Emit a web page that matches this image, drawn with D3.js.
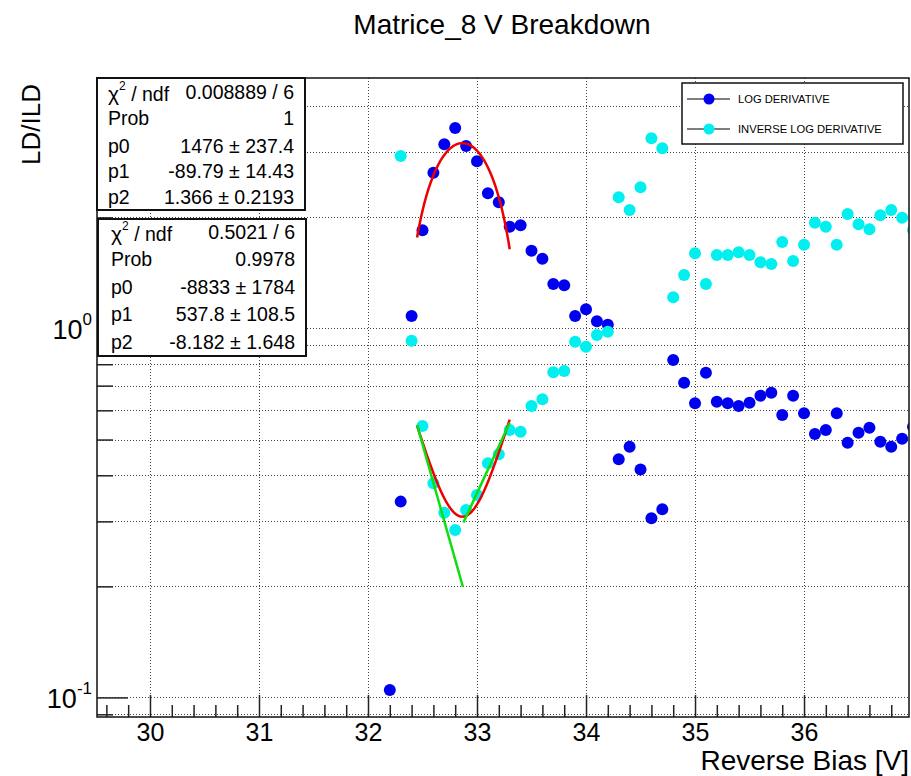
<!DOCTYPE html>
<html>
<head>
<meta charset="utf-8">
<script src="https://cdn.jsdelivr.net/npm/d3@7/dist/d3.min.js"></script>
<style>
  html, body { margin: 0; padding: 0; background: #fff; }
  svg { display: block; font-family: "Liberation Sans", Arial, sans-serif; }
</style>
</head>
<body>
<svg id="chart" width="911" height="776"></svg>
<script>
// ---------------- data ----------------
const chartTitle = "Matrice_8 V Breakdown";
const xTitle = "Reverse Bias [V]";
const yTitle = "LD/ILD";

// reverse bias values (V)
const biasLD = [32.2,32.3,32.4,32.5,32.6,32.7,32.8,32.9,33.0,33.1,33.2,33.3,33.4,33.5,33.6,33.7,33.8,33.9,34.0,34.1,34.2,34.3,34.4,34.5,34.6,34.7,34.8,34.9,35.0,35.1,35.2,35.3,35.4,35.5,35.6,35.7,35.8,35.9,36.0,36.1,36.2,36.3,36.4,36.5,36.6,36.7,36.8,36.9,37.0];
const logDerivative = [0.1048,0.3394,1.081,1.845,2.644,3.157,3.494,3.123,2.839,2.325,2.198,1.888,1.905,1.625,1.546,1.320,1.309,1.081,1.127,1.046,1.024,0.4419,0.4782,0.4148,0.3060,0.3236,0.8214,0.7128,0.6270,0.7590,0.6332,0.6270,0.6166,0.6294,0.6574,0.6699,0.5828,0.6574,0.5891,0.5176,0.5307,0.5891,0.4903,0.5218,0.5383,0.4934,0.4782,0.5027,0.5417];

const biasILD = [32.3,32.4,32.5,32.6,32.7,32.8,32.9,33.0,33.1,33.2,33.3,33.4,33.5,33.6,33.7,33.8,33.9,34.0,34.1,34.2,34.3,34.4,34.5,34.6,34.7,34.8,34.9,35.0,35.1,35.2,35.3,35.4,35.5,35.6,35.7,35.8,35.9,36.0,36.1,36.2,36.3,36.4,36.5,36.6,36.7,36.8,36.9,37.0];
const inverseLogDerivative = [2.934,0.9268,0.5441,0.3806,0.3167,0.2843,0.3221,0.3537,0.4311,0.4560,0.5307,0.5251,0.6166,0.6427,0.7605,0.7667,0.9209,0.8927,0.9603,0.9802,2.268,2.095,2.414,3.277,3.078,1.215,1.396,1.599,1.320,1.582,1.582,1.609,1.582,1.511,1.495,1.716,1.523,1.687,1.935,1.888,1.687,2.043,1.916,1.857,2.027,2.095,1.996,1.849];

// pol2 fits (vertex form: x0, value at vertex, curvature), fit ranges
const peakFit = [32.866, 3.18, -8.182];
const peakRange = [32.45, 33.30];
const valleyFit = [32.866, 0.309, 1.366];
const valleyRange = [32.45, 33.30];

// straight-line fits  [x, value] end points
const leftLine = [[32.45, 0.5475], [32.87, 0.1997]];
const rightLine = [[32.875, 0.2977], [33.30, 0.5555]];

// axis ticks
const xMajorTicks = [30, 31, 32, 33, 34, 35, 36];
const xTickLabels = ["30", "31", "32", "33", "34", "35", "36"];
const xMinorTicks = [29.6,29.8,30.2,30.4,30.6,30.8,31.2,31.4,31.6,31.8,32.2,32.4,32.6,32.8,33.2,33.4,33.6,33.8,34.2,34.4,34.6,34.8,35.2,35.4,35.6,35.8,36.2,36.4,36.6,36.8];
const yMajorTicks = [0.1, 1];
const yTickLabelBase = ["10", "10"];
const yTickLabelExp = ["-1", "0"];
const yMinorTicks = [0.09,0.2,0.3,0.4,0.5,0.6,0.7,0.8,0.9,2,3,4];

// stats boxes
const stats1Labels = ["ndf", "Prob", "p0", "p1", "p2"];
const stats1Values = ["0.008889 / 6", "1", "1476 \u00b1 237.4", "-89.79 \u00b1 14.43", "1.366 \u00b1 0.2193"];
const stats2Labels = ["ndf", "Prob", "p0", "p1", "p2"];
const stats2Values = ["0.5021 / 6", "0.9978", "-8833 \u00b1 1784", "537.8 \u00b1 108.5", "-8.182 \u00b1 1.648"];

// legend
const legendNames = ["LOG DERIVATIVE", "INVERSE LOG DERIVATIVE"];
const seriesColors = ["#0000f0", "#00f0f0"];

// ---------------- drawing ----------------
const svg = d3.select("#chart");
const W = 911, H = 776;
const frame = { left: 97, right: 909, top: 78, bottom: 717 };

svg.append("rect").attr("width", W).attr("height", H).attr("fill", "#fff");
svg.append("defs").append("clipPath").attr("id", "frameClip")
  .append("rect").attr("x", frame.left).attr("y", 0)
  .attr("width", frame.right - frame.left).attr("height", H);

const x = d3.scaleLinear().domain([29.514, 36.963]).range([frame.left, frame.right]);
const y = d3.scaleLog().domain([0.0885, 4.774]).range([frame.bottom, frame.top]);

// grid
const grid = svg.append("g").attr("stroke", "#444").attr("stroke-width", 1).attr("stroke-dasharray", "1,2");
grid.selectAll("line.gx").data(xMajorTicks).join("line")
  .attr("x1", d => Math.round(x(d)) + 0.5).attr("x2", d => Math.round(x(d)) + 0.5)
  .attr("y1", frame.top).attr("y2", frame.bottom);
grid.selectAll("line.gy").data(yMajorTicks.concat(yMinorTicks)).join("line")
  .attr("y1", d => Math.round(y(d)) + 0.5).attr("y2", d => Math.round(y(d)) + 0.5)
  .attr("x1", frame.left).attr("x2", frame.right);

// axes (ticks pointing into the frame)
function styleAxis(g) {
  g.select(".domain").remove();
  g.selectAll(".tick line").attr("stroke", "#222").attr("stroke-width", 1.5);
}
const xAxisMinor = d3.axisBottom(x).tickValues(xMinorTicks).tickSize(-12).tickSizeOuter(0).tickFormat("");
svg.append("g").attr("transform", `translate(0,${frame.bottom})`).call(xAxisMinor).call(styleAxis);
const xAxisMajor = d3.axisBottom(x).tickValues(xMajorTicks).tickSize(-22).tickSizeOuter(0)
  .tickPadding(6).tickFormat((d, i) => xTickLabels[i]);
const gx = svg.append("g").attr("transform", `translate(0,${frame.bottom})`).call(xAxisMajor).call(styleAxis);
gx.selectAll(".tick text").attr("font-size", 25).attr("fill", "#000")
  .attr("font-family", "Liberation Sans, Arial, sans-serif");

const yAxisMinor = d3.axisLeft(y).tickValues(yMinorTicks).tickSize(-16).tickSizeOuter(0).tickFormat("");
svg.append("g").attr("transform", `translate(${frame.left},0)`).call(yAxisMinor).call(styleAxis);
const yAxisMajor = d3.axisLeft(y).tickValues(yMajorTicks).tickSize(-31).tickSizeOuter(0).tickPadding(8).tickFormat("");
const gy = svg.append("g").attr("transform", `translate(${frame.left},0)`).call(yAxisMajor).call(styleAxis);
gy.selectAll(".tick").each(function(d, i) {
  const t = d3.select(this).append("text").attr("x", -5).attr("y", 10)
    .attr("text-anchor", "end").attr("fill", "#000").attr("font-size", 27)
    .attr("font-family", "Liberation Sans, Arial, sans-serif");
  t.append("tspan").text(yTickLabelBase[i]);
  t.append("tspan").attr("font-size", 17).attr("dy", -14).text(yTickLabelExp[i]);
});

// markers (clipped at the frame sides)
const pts = svg.append("g").attr("clip-path", "url(#frameClip)");
function drawPoints(xs, vs, color) {
  pts.append("g").selectAll("circle").data(vs.map((v, i) => [xs[i], v])).join("circle")
    .attr("cx", d => x(d[0])).attr("cy", d => y(d[1])).attr("r", 6).attr("fill", color);
}
drawPoints(biasLD, logDerivative, seriesColors[0]);
drawPoints(biasILD, inverseLogDerivative, seriesColors[1]);

// frame
svg.append("rect").attr("x", frame.left).attr("y", frame.top)
  .attr("width", frame.right - frame.left).attr("height", frame.bottom - frame.top)
  .attr("fill", "none").attr("stroke", "#111").attr("stroke-width", 1.5);

// fits
const line = d3.line().x(d => x(d[0])).y(d => y(d[1]));
function pol2Points(p, range) {
  return d3.range(0, 101).map(k => {
    const xv = range[0] + (range[1] - range[0]) * k / 100;
    return [xv, p[1] + p[2] * (xv - p[0]) * (xv - p[0])];
  });
}
function expLinePoints(ends) {
  const [a, b] = ends;
  return d3.range(0, 21).map(k => {
    const t = k / 20;
    return [a[0] + (b[0] - a[0]) * t, Math.exp(Math.log(a[1]) + (Math.log(b[1]) - Math.log(a[1])) * t)];
  });
}
svg.append("path").datum(pol2Points(peakFit, peakRange)).attr("d", line)
  .attr("fill", "none").attr("stroke", "#ee0000").attr("stroke-width", 2.5);
svg.append("path").datum(pol2Points(valleyFit, valleyRange)).attr("d", line)
  .attr("fill", "none").attr("stroke", "#ee0000").attr("stroke-width", 2.5);
svg.append("path").datum(expLinePoints(leftLine)).attr("d", line)
  .attr("fill", "none").attr("stroke", "#11dd11").attr("stroke-width", 2.5);
svg.append("path").datum(expLinePoints(rightLine)).attr("d", line)
  .attr("fill", "none").attr("stroke", "#11dd11").attr("stroke-width", 2.5);

// stats boxes
function statsBox(bx, by, bw, bh, labels, values, rowYs, lx, rx) {
  const g = svg.append("g");
  g.append("rect").attr("x", bx).attr("y", by).attr("width", bw).attr("height", bh)
    .attr("fill", "#fff").attr("stroke", "#111").attr("stroke-width", 2);
  labels.forEach((lab, i) => {
    const t = g.append("text").attr("x", lx).attr("y", rowYs[i]).attr("font-size", 19.5).attr("fill", "#000");
    if (i === 0) {
      t.append("tspan").attr("font-size", 21).text("\u03c7");
      t.append("tspan").attr("font-size", 12).attr("dy", -11).text("2");
      t.append("tspan").attr("dy", 11).text(" / " + lab);
    } else {
      t.text(lab);
    }
    g.append("text").attr("x", rx).attr("y", rowYs[i] + (i === 0 ? -2 : 0)).attr("text-anchor", "end")
      .attr("font-size", 19.5).attr("fill", "#000").text(values[i]);
  });
}
statsBox(97, 78, 208, 132, stats1Labels, stats1Values, [101, 125, 153, 178, 204], 108, 294);
statsBox(98, 219, 208, 137, stats2Labels, stats2Values, [241, 266, 294, 321, 349], 111, 295);

// legend
const lg = svg.append("g");
lg.append("rect").attr("x", 682).attr("y", 83).attr("width", 221).attr("height", 61)
  .attr("fill", "#fff").attr("stroke", "#111").attr("stroke-width", 1.5);
legendNames.forEach((name, i) => {
  const cy = 99 + i * 30;
  lg.append("line").attr("x1", 687).attr("x2", 730).attr("y1", cy).attr("y2", cy)
    .attr("stroke", "#000").attr("stroke-width", 1.2);
  lg.append("circle").attr("cx", 709).attr("cy", cy).attr("r", 5.5).attr("fill", seriesColors[i]);
  lg.append("text").attr("x", 738).attr("y", cy + 4).attr("font-size", 11.2).attr("fill", "#000").text(name);
});

// titles
svg.append("text").attr("x", 502).attr("y", 34).attr("text-anchor", "middle")
  .attr("font-size", 28).attr("fill", "#000").text(chartTitle);
svg.append("text").attr("x", 909).attr("y", 770).attr("text-anchor", "end")
  .attr("font-size", 28).attr("fill", "#000").text(xTitle);
svg.append("text").attr("transform", "translate(40,84) rotate(-90)").attr("text-anchor", "end")
  .attr("font-size", 26).attr("fill", "#000").text(yTitle);
</script>
</body>
</html>
